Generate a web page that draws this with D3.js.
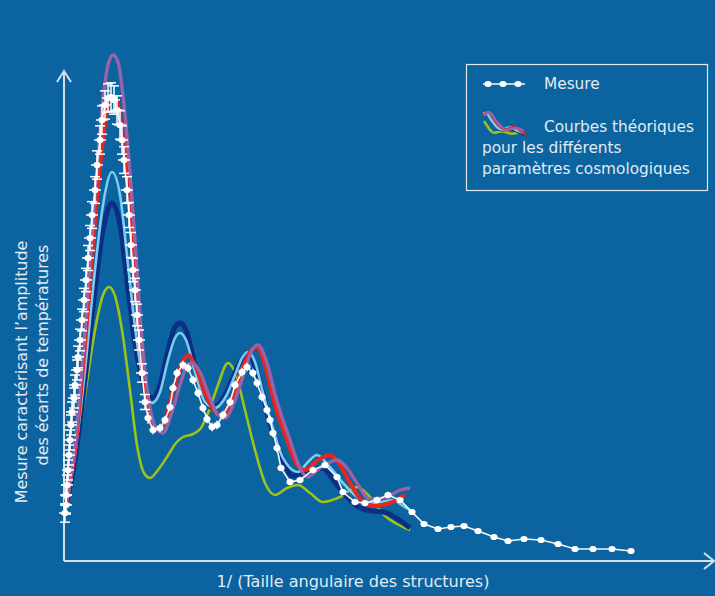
<!DOCTYPE html>
<html><head><meta charset="utf-8">
<script src="https://cdn.jsdelivr.net/npm/d3@7"></script>
<style>html,body{margin:0;padding:0;background:#0b64a0;} svg{display:block}</style>
</head><body><svg id="c" width="715" height="596"></svg>
<script>
// ---- DATA (multipole-like x, amplitude-like y) ----
// measured points: [x, value, vertical error]
const measure = [
 [4,576,110],[8,672,110],[8,792,120],[12,912,120],[16,1092,120],[20,1272,120],[24,1452,120],[28,1632,120],
 [32,1788,120],[40,1956,120],[44,2112,120],[52,2292,120],[56,2448,130],[64,2652,130],[72,2892,130],[80,3132,140],
 [88,3372,140],[96,3636,150],[104,3876,150],[112,4152,160],[124,4452,160],[132,4752,170],[144,5052,170],[152,5292,170],
 [164,5472,170],[176,5556,170],[188,5568,170],[200,5532,170],[212,5412,170],[224,5232,170],[232,5052,170],[240,4812,160],
 [252,4452,160],[260,4152,150],[268,3792,150],[276,3492,140],[284,3252,140],[292,2952,130],[300,2652,120],[312,2256,110],
 [324,1908,90],[336,1716,70],[356,1572,50],[384,1596,50],[404,1692,50],[424,1848,50],[436,2076,50],[452,2256,50],
 [476,2352,50],[496,2316,50],[516,2172,50],[536,2016,50],[556,1836,50],[572,1704,50],[592,1608,50],[612,1632,50],
 [636,1752,50],[664,1908,50],[684,2112,50],[712,2268,50],[732,2328,50],[756,2256,50],[772,2136,50],[792,1968,50],
 [812,1812,50],[824,1692,50],[836,1536,50],[852,1356,50],[868,1116,40],[904,948,40],[944,972,40],[996,1092,40],
 [1044,1152,40],[1092,1008,40],[1116,828,40],[1164,708,40],[1204,696,40],[1252,732,40],[1296,792,40],[1344,732,30],
 [1392,588,30],[1440,444,20],[1496,384,20],[1548,408,20],[1600,420,20],[1656,360,20],[1720,288,20],[1776,240,20],
 [1840,264,20],[1908,252,20],[1976,204,20],[2044,144,20],[2116,144,20],[2192,144,20],[2268,120,20]
];
const curveGreen = [[8,672],[44,1248],[84,1992],[124,2772],[156,3192],[180,3288],[204,3180],[232,2772],[264,2052],
 [292,1392],[320,1056],[344,996],[376,1092],[412,1248],[448,1416],[476,1488],[516,1524],[548,1596],[584,1836],
 [616,2112],[656,2376],[688,2232],[724,1812],[764,1332],[804,936],[844,792],[892,876],[936,912],[984,816],
 [1036,708],[1104,768],[1172,888],[1224,768],[1276,564],[1332,444],[1384,372]];
const curveNavy = [[8,672],[44,1212],[84,2172],[124,3252],[156,3972],[192,4296],[224,4032],[256,3252],[288,2532],
 [320,2112],[352,1956],[384,2112],[416,2532],[444,2808],[464,2856],[488,2772],[524,2352],[564,1932],[596,1836],
 [632,1932],[672,2172],[704,2388],[732,2472],[764,2352],[796,1992],[824,1656],[852,1416],[884,1152],[916,1020],
 [964,1044],[1032,1116],[1092,912],[1144,732],[1184,636],[1232,600],[1276,588],[1328,516],[1384,396]];
const curveLightBlue = [[8,672],[44,1272],[84,2292],[124,3492],[156,4272],[192,4668],[224,4392],[256,3552],[288,2712],
 [320,2112],[352,1896],[384,2028],[416,2412],[444,2676],[464,2736],[488,2652],[524,2268],[564,1908],[604,1836],
 [644,1956],[684,2232],[712,2436],[736,2508],[764,2388],[796,2016],[832,1632],[876,1236],[936,1068],[976,1188],
 [1012,1272],[1056,1152],[1116,936],[1172,768],[1224,696],[1272,708],[1316,732],[1356,660],[1396,588]];
const curveRed = [[8,672],[44,1332],[84,2592],[124,4092],[156,5052],[176,5472],[196,5568],[216,5472],[232,5172],
 [252,4728],[276,3732],[300,2772],[328,1992],[364,1596],[396,1632],[432,1992],[464,2316],[496,2472],[524,2352],
 [564,2016],[604,1788],[632,1740],[672,1956],[712,2292],[744,2508],[772,2568],[804,2352],[844,1872],[892,1452],
 [932,1152],[964,1092],[1016,1212],[1064,1272],[1104,1152],[1144,936],[1196,708],[1244,660],[1304,696],[1364,792]];
const curvePurple = [[8,672],[44,1392],[84,2772],[124,4392],[156,5532],[176,5952],[196,6072],[216,5988],[240,5472],
 [264,4656],[284,3852],[304,2952],[336,1992],[368,1596],[396,1536],[428,1752],[464,2112],[492,2340],[512,2376],
 [544,2268],[584,1956],[616,1752],[644,1716],[684,1932],[724,2292],[752,2532],[776,2592],[808,2412],[848,1956],
 [904,1452],[944,1116],[972,1008],[1024,1116],[1092,1212],[1132,1116],[1172,936],[1224,744],[1292,768],[1344,852],[1384,876]];

const legendMeasure = "Mesure";
const legendTheory = ["Courbes théoriques", "pour les différents", "paramètres cosmologiques"];
const yTitle = ["Mesure caractérisant l\u2019amplitude", "des écarts de températures"];
const xTitle = "1/ (Taille angulaire des structures)";

// ---- STYLE ----
const theory = [
  {data: curveGreen, color: "#9cc31a", w: 2.6},
  {data: curveNavy, color: "#0c2f86", w: 5},
  {data: curveLightBlue, color: "#7ccbf0", w: 2.6},
  {data: curveRed, color: "#e8261c", w: 4},
  {data: curvePurple, color: "#9a62a8", w: 3.4}
];
const fg = "#e4eaf1";
const FONT = "'DejaVu Sans', sans-serif";

const svg = d3.select("#c");
svg.append("rect").attr("width", 715).attr("height", 596).attr("fill", "#0b64a0");

const x = d3.scaleLinear().domain([0, 2600]).range([64, 714]);
const y = d3.scaleLinear().domain([0, 5880]).range([561, 71]);

// axes with arrows
const ax = svg.append("g").attr("stroke", "#d6dee8").attr("stroke-width", 2).attr("fill", "none");
ax.append("line").attr("x1", x(0)).attr("y1", y(0)).attr("x2", x(0)).attr("y2", y(5880));
ax.append("line").attr("x1", x(0)).attr("y1", y(0)).attr("x2", x(2600)).attr("y2", y(0));
ax.append("path").attr("d", `M${x(0)-7},${y(5880)+11}L${x(0)},${y(5880)}L${x(0)+7},${y(5880)+11}`);
ax.append("path").attr("d", `M${x(2600)-10},${y(0)-8}L${x(2600)},${y(0)}L${x(2600)-10},${y(0)+8}`);

// theory curves
const line = d3.line().x(d => x(d[0])).y(d => y(d[1])).curve(d3.curveMonotoneX);
theory.forEach(t => {
  svg.append("path").attr("d", line(t.data)).attr("fill", "none")
    .attr("stroke", t.color).attr("stroke-width", t.w).attr("stroke-linejoin", "round");
});

// measurements
const mg = svg.append("g");
mg.append("path").attr("d", d3.line().x(d => x(d[0])).y(d => y(d[1]))(measure))
  .attr("fill", "none").attr("stroke", "#f4f6f8").attr("stroke-width", 1.6);
const eb = mg.append("g").attr("stroke", "#ffffff").attr("stroke-width", 1.5);
measure.forEach(d => {
  const cx = x(d[0]);
  eb.append("line").attr("x1", cx).attr("x2", cx).attr("y1", y(d[1]-d[2])).attr("y2", y(d[1]+d[2]));
  if (d[2] >= 90) {
    eb.append("line").attr("x1", cx-5).attr("x2", cx+5).attr("y1", y(d[1]+d[2])).attr("y2", y(d[1]+d[2]));
    eb.append("line").attr("x1", cx-5).attr("x2", cx+5).attr("y1", y(d[1]-d[2])).attr("y2", y(d[1]-d[2]));
    eb.append("line").attr("x1", cx-6).attr("x2", cx+6).attr("y1", y(d[1])).attr("y2", y(d[1]));
  }
});
mg.selectAll("ellipse").data(measure).join("ellipse")
  .attr("cx", d => x(d[0])).attr("cy", d => y(d[1])).attr("rx", 3.6).attr("ry", 3.1)
  .attr("fill", "#ffffff");

// text helper: fit font size to a target width
function fitText(sel, target, base) {
  sel.attr("font-size", base);
  const len = sel.node().getComputedTextLength();
  sel.attr("font-size", base * target / len);
  return sel;
}
function txt(str, xx, yy, anchor) {
  return svg.append("text").text(str).attr("x", xx).attr("y", yy).attr("fill", fg)
    .attr("font-family", FONT).attr("text-anchor", anchor || "start");
}

// legend
svg.append("rect").attr("x", 466.5).attr("y", 64.5).attr("width", 241).attr("height", 126)
  .attr("fill", "none").attr("stroke", "#dfe6ee").attr("stroke-width", 1.2);
const lm = svg.append("g");
lm.append("line").attr("x1", 483).attr("x2", 525).attr("y1", 84).attr("y2", 84).attr("stroke", "#f4f6f8").attr("stroke-width", 1.6);
[488, 503, 518].forEach(cx => lm.append("ellipse").attr("cx", cx).attr("cy", 84).attr("rx", 3.6).attr("ry", 3).attr("fill", "#fff"));
// mini theory curves icon (small excerpt of the theory curves)
const ix = d3.scaleLinear().domain([700, 1200]).range([482, 526]);
const iy = d3.scaleLinear().domain([600, 2600]).range([135, 112]);
const iline = d3.line().x(d => ix(d[0])).y(d => iy(d[1])).curve(d3.curveMonotoneX);
theory.forEach(t => {
  const sub = t.data.filter(d => d[0] >= 700 && d[0] <= 1200);
  svg.append("path").attr("d", iline(sub)).attr("fill", "none").attr("stroke", t.color).attr("stroke-width", 2.6);
});
const lt1 = txt(legendMeasure, 544, 89);
const lt2 = txt(legendTheory[0], 544, 132);
const lt3 = txt(legendTheory[1], 482, 153);
const lt4 = txt(legendTheory[2], 482, 174);
fitText(lt4, 208, 14);
const lfs = +lt4.attr("font-size");
[lt1, lt2, lt3].forEach(s => s.attr("font-size", lfs));

// axis titles
const xt = txt(xTitle, 353, 587, "middle");
fitText(xt, 273, 14);
const yt1 = txt(yTitle[0], 0, 0, "middle").attr("transform", "translate(27,372) rotate(-90)");
fitText(yt1, 263, 14);
const yt2 = txt(yTitle[1], 0, 0, "middle").attr("transform", "translate(48,355) rotate(-90)");
yt2.attr("font-size", yt1.attr("font-size"));
</script></body></html>
